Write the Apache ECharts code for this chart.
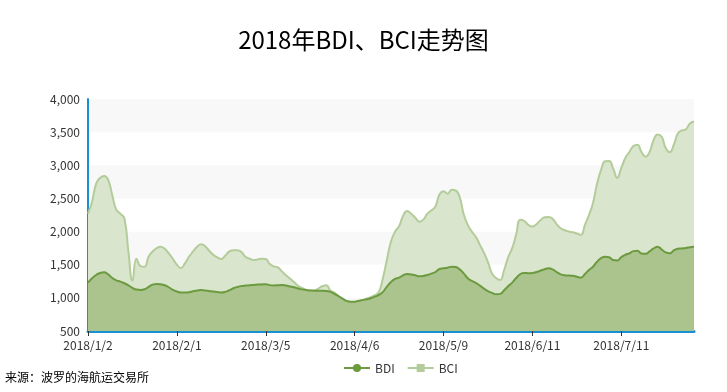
<!DOCTYPE html>
<html>
<head>
<meta charset="utf-8">
<script src="https://cdn.jsdelivr.net/npm/echarts@6/dist/echarts.min.js"></script>
<style>html,body{margin:0;padding:0;background:#fff;}#c{width:727px;height:392px;}</style>
</head>
<body>
<div id="c"></div>
<script>
// Trading days (UK business days) by month, 2018
const janDays = [2,3,4,5,8,9,10,11,12,15,16,17,18,19,22,23,24,25,26,29,30,31];
const febDays = [1,2,5,6,7,8,9,12,13,14,15,16,19,20,21,22,23,26,27,28];
const marDays = [1,2,5,6,7,8,9,12,13,14,15,16,19,20,21,22,23,26,27,28,29];
const aprDays = [3,4,5,6,9,10,11,12,13,16,17,18,19,20,23,24,25,26,27,30];
const mayDays = [1,2,3,4,8,9,10,11,14,15,16,17,18,21,22,23,24,25,29,30,31];
const junDays = [1,4,5,6,7,8,11,12,13,14,15,18,19,20,21,22,25,26,27,28,29];
const julDays = [2,3,4,5,6,9,10,11,12,13,16,17,18,19,20,23,24,25,26,27,30,31];
const augDays = [1,2,3,6];

const monthDays = [janDays, febDays, marDays, aprDays, mayDays, junDays, julDays, augDays];
const categories = [];
monthDays.forEach((days, m) => days.forEach(d => categories.push('2018/' + (m + 1) + '/' + d)));

const bdi = [
1229,1295,1345,1375,1385,1355,1300,1265,1245,1220,
1190,1150,1125,1120,1130,1165,1200,1210,1205,1190,
1160,1120,1095,1080,1080,1085,1100,1110,1118,1110,
1103,1095,1088,1080,1090,1115,1145,1165,1178,1185,
1190,1195,1200,1203,1205,1192,1188,1192,1193,1185,
1172,1160,1140,1128,1118,1110,1108,1108,1108,1105,
1090,1060,1025,990,955,942,942,955,968,980,
995,1018,1045,1090,1170,1240,1285,1305,1340,1360,
1352,1340,1325,1330,1345,1365,1390,1435,1445,1455,
1470,1465,1430,1370,1295,1255,1225,1185,1140,1100,
1075,1055,1060,1115,1175,1230,1300,1360,1375,1372,
1375,1390,1410,1431,1446,1430,1390,1355,1340,1336,
1333,1318,1305,1360,1420,1470,1545,1600,1620,1612,
1570,1565,1615,1650,1672,1705,1712,1670,1665,1700,
1745,1770,1730,1685,1672,1715,1740,1745,1752,1765,
1772
];

const bci = [
2270,2450,2720,2810,2840,2780,2550,2330,2270,2200,
1700,1260,1590,1480,1470,1620,1700,1750,1770,1740,
1670,1590,1500,1450,1520,1620,1700,1770,1810,1780,
1710,1650,1610,1585,1640,1700,1720,1720,1690,1620,
1590,1570,1580,1590,1585,1510,1475,1460,1400,1340,
1290,1240,1180,1150,1120,1110,1110,1140,1175,1190,
1110,1080,1020,905,840,825,850,910,960,990,
1010,1040,1090,1300,1580,1850,2000,2080,2240,2310,
2270,2210,2150,2180,2270,2320,2380,2560,2610,2570,
2630,2620,2520,2260,2100,2000,1920,1800,1680,1540,
1370,1300,1270,1420,1610,1750,1960,2180,2160,2100,
2075,2110,2170,2215,2220,2195,2110,2050,2020,2000,
1990,1970,1950,2100,2250,2430,2720,2930,3060,3065,
2950,2810,2960,3110,3200,3290,3310,3200,3130,3200,
3380,3465,3430,3260,3196,3310,3480,3525,3545,3630,
3660
];

const FONT = '"Noto Sans CJK SC", "Noto Sans", sans-serif';
const chart = echarts.init(document.getElementById('c'), null, {renderer: 'canvas'});
chart.setOption({
  animation: false,
  backgroundColor: '#fff',
  textStyle: {fontFamily: FONT},
  title: {
    text: '2018年BDI、BCI走势图',
    left: 'center',
    top: 23,
    textStyle: {fontSize: 24, fontWeight: 'normal', color: '#000', fontFamily: FONT}
  },
  legend: {
    left: 338,
    top: 357,
    itemWidth: 26,
    itemHeight: 10,
    itemGap: 12,
    textStyle: {fontSize: 12, color: '#333', fontFamily: FONT},
    data: ['BDI', 'BCI']
  },
  graphic: [{
    type: 'text',
    left: 5,
    top: 371,
    style: {text: '来源：波罗的海航运交易所', fill: '#000', font: '12px ' + FONT}
  }],
  grid: {left: 88, right: 33, top: 99, bottom: 61, containLabel: false},
  xAxis: {
    type: 'category',
    data: categories,
    boundaryGap: false,
    axisLine: {lineStyle: {color: '#1a8fd1', width: 3}},
    axisTick: {show: true, interval: 21, length: 5, lineStyle: {color: '#333'}},
    axisLabel: {interval: 21, color: '#333', fontSize: 12, margin: 8, fontFamily: FONT},
    splitLine: {show: false}
  },
  yAxis: {
    type: 'value',
    min: 500,
    max: 4000,
    interval: 500,
    axisLine: {show: true, lineStyle: {color: '#1a8fd1', width: 2}},
    axisTick: {show: false},
    axisLabel: {color: '#333', fontSize: 12, margin: 8, fontFamily: FONT},
    splitLine: {show: false},
    splitArea: {show: true, areaStyle: {color: ['#f8f8f8', '#ffffff']}}
  },
  series: [
    {
      name: 'BCI',
      type: 'line',
      data: bci,
      smooth: true,
      symbol: 'rect',
      symbolSize: 8,
      showSymbol: false,
      itemStyle: {color: '#b3cc9a'},
      lineStyle: {color: '#b3cc9a', width: 2},
      areaStyle: {color: '#d9e5cd', opacity: 1},
      z: 2
    },
    {
      name: 'BDI',
      type: 'line',
      data: bdi,
      smooth: true,
      symbol: 'circle',
      symbolSize: 8,
      showSymbol: false,
      itemStyle: {color: '#6c9a3f'},
      lineStyle: {color: '#6c9a3f', width: 2},
      areaStyle: {color: '#abc38d', opacity: 1},
      z: 3
    }
  ]
});
</script>
</body>
</html>
